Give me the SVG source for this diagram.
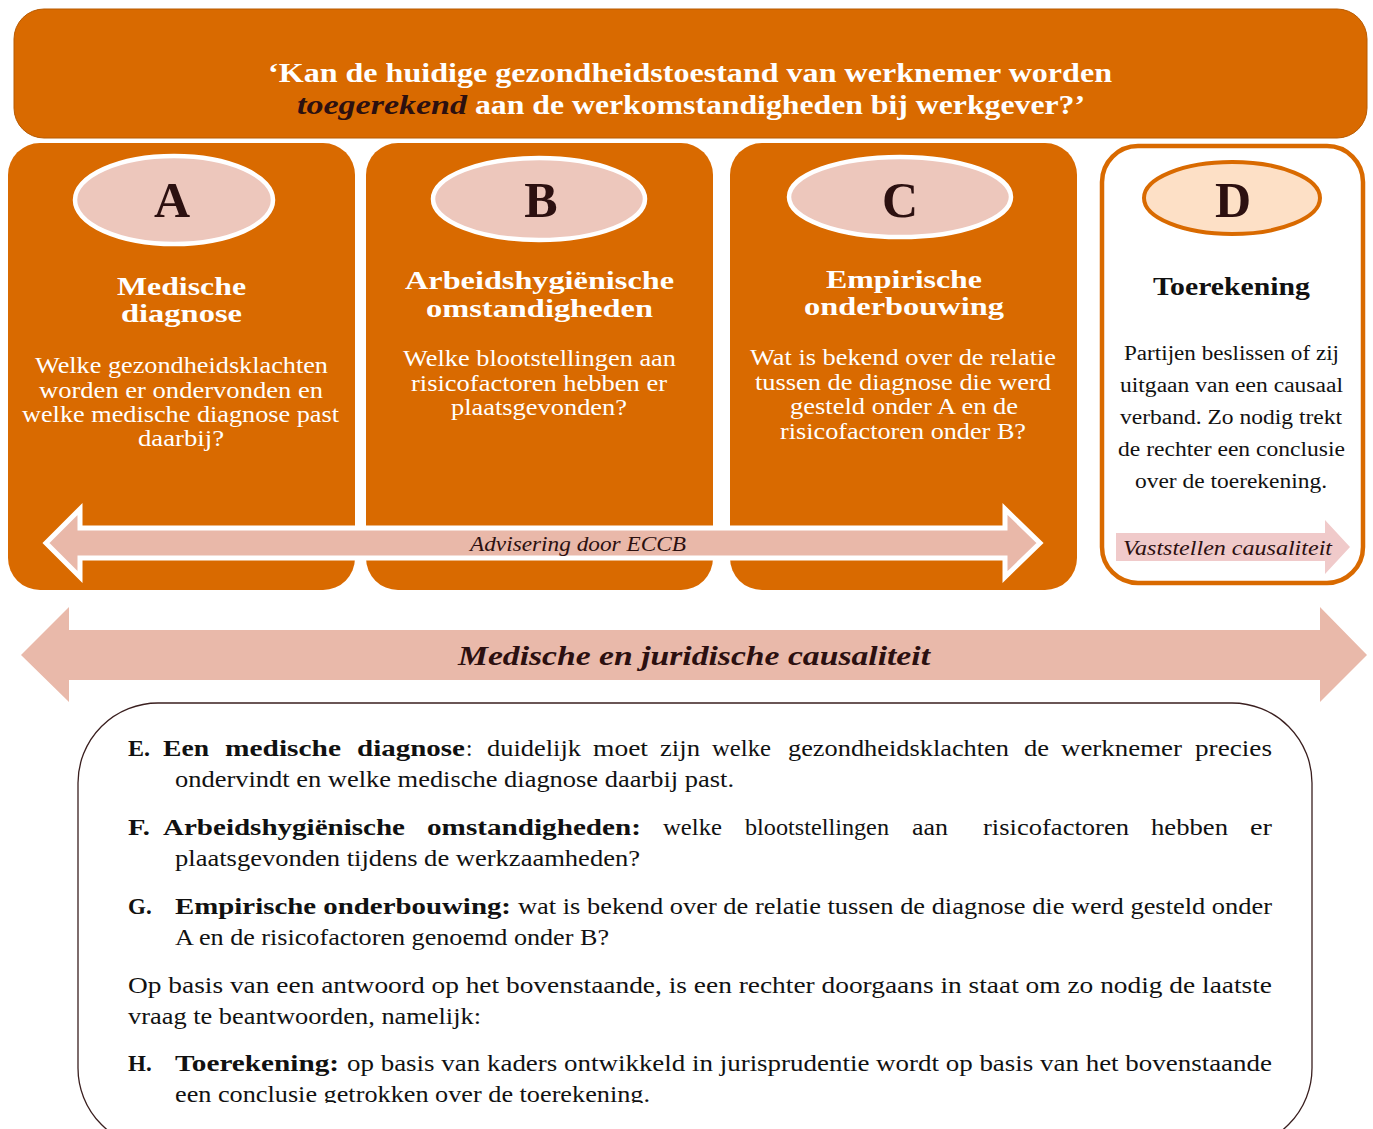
<svg xmlns="http://www.w3.org/2000/svg" width="1373" height="1129" viewBox="0 0 1373 1129">
<style>
text{font-family:"Liberation Serif","Times New Roman",serif}
.panel{fill:#D96A00}
.ell{fill:#EDC7BC;stroke:#FFFFFF;stroke-width:4.5}
.letter{font-size:50px;font-weight:bold;fill:#2C1010;text-anchor:middle}
.ttl{font-size:26px;font-weight:bold;fill:#FFFFFF}
.body{font-size:24px;fill:#FFFFFF}
.dbody{font-size:20px;fill:#111111}
.bt{font-size:23px;fill:#111111}
.b{font-weight:bold}
</style>
<defs>
<clipPath id="clipBottom"><rect x="0" y="700" width="1373" height="403"/></clipPath>
</defs>

<g id="banner">
<rect x="14" y="9" width="1353" height="129" rx="30" fill="#D96A00" stroke="#B85A00" stroke-width="1"/>
<text x="268" y="82" font-size="27" font-weight="bold" fill="#FFFFFF" textLength="844" lengthAdjust="spacingAndGlyphs">‘Kan de huidige gezondheidstoestand van werknemer worden</text>
<text x="297" y="114" font-size="27" font-weight="bold" font-style="italic" fill="#2C1010" textLength="170" lengthAdjust="spacingAndGlyphs">toegerekend</text>
<text x="475" y="114" font-size="27" font-weight="bold" fill="#FFFFFF" textLength="610" lengthAdjust="spacingAndGlyphs">aan de werkomstandigheden bij werkgever?’</text>
</g>

<g id="panelA">
<rect class="panel" x="8" y="143" width="347" height="447" rx="32"/>
<ellipse class="ell" cx="174" cy="200" rx="99" ry="44"/>
<text class="letter" x="172" y="217">A</text>
<text class="ttl" x="117" y="295" font-size="25" textLength="129" lengthAdjust="spacingAndGlyphs">Medische</text>
<text class="ttl" x="121" y="322" font-size="25" textLength="121" lengthAdjust="spacingAndGlyphs">diagnose</text>
<text class="body" x="35" y="373" textLength="293" lengthAdjust="spacingAndGlyphs">Welke gezondheidsklachten</text>
<text class="body" x="39" y="398" textLength="284" lengthAdjust="spacingAndGlyphs">worden er ondervonden en</text>
<text class="body" x="22" y="422" textLength="317" lengthAdjust="spacingAndGlyphs">welke medische diagnose past</text>
<text class="body" x="138" y="446" textLength="86" lengthAdjust="spacingAndGlyphs">daarbij?</text>
</g>

<g id="panelB">
<rect class="panel" x="366" y="143" width="347" height="447" rx="32"/>
<ellipse class="ell" cx="539" cy="199" rx="106" ry="41"/>
<text class="letter" x="541" y="217">B</text>
<text class="ttl" x="405" y="289" textLength="269" lengthAdjust="spacingAndGlyphs">Arbeidshygiënische</text>
<text class="ttl" x="426" y="317" textLength="227" lengthAdjust="spacingAndGlyphs">omstandigheden</text>
<text class="body" x="403" y="366" textLength="273" lengthAdjust="spacingAndGlyphs">Welke blootstellingen aan</text>
<text class="body" x="411" y="391" textLength="256" lengthAdjust="spacingAndGlyphs">risicofactoren hebben er</text>
<text class="body" x="451" y="415" textLength="176" lengthAdjust="spacingAndGlyphs">plaatsgevonden?</text>
</g>

<g id="panelC">
<rect class="panel" x="730" y="143" width="347" height="447" rx="32"/>
<ellipse class="ell" cx="900" cy="197" rx="111" ry="40"/>
<text class="letter" x="900" y="217">C</text>
<text class="ttl" x="826" y="288" textLength="156" lengthAdjust="spacingAndGlyphs">Empirische</text>
<text class="ttl" x="804" y="315" textLength="200" lengthAdjust="spacingAndGlyphs">onderbouwing</text>
<text class="body" x="750" y="365" textLength="306" lengthAdjust="spacingAndGlyphs">Wat is bekend over de relatie</text>
<text class="body" x="755" y="390" textLength="296" lengthAdjust="spacingAndGlyphs">tussen de diagnose die werd</text>
<text class="body" x="790" y="414" textLength="228" lengthAdjust="spacingAndGlyphs">gesteld onder A en de</text>
<text class="body" x="780" y="439" textLength="246" lengthAdjust="spacingAndGlyphs">risicofactoren onder B?</text>
</g>

<g id="panelD">
<rect x="1102" y="146" width="261" height="437" rx="36" fill="#FFFFFF" stroke="#D96A00" stroke-width="4.5"/>
<ellipse cx="1232" cy="198" rx="88" ry="36" fill="#FDE0C6" stroke="#D96A00" stroke-width="4"/>
<text class="letter" x="1233" y="217">D</text>
<text x="1153" y="295" font-size="25" font-weight="bold" fill="#111111" textLength="157" lengthAdjust="spacingAndGlyphs">Toerekening</text>
<text class="dbody" x="1124" y="360" textLength="215" lengthAdjust="spacingAndGlyphs">Partijen beslissen of zij</text>
<text class="dbody" x="1120" y="392" textLength="223" lengthAdjust="spacingAndGlyphs">uitgaan van een causaal</text>
<text class="dbody" x="1120" y="424" textLength="222" lengthAdjust="spacingAndGlyphs">verband. Zo nodig trekt</text>
<text class="dbody" x="1118" y="456" textLength="227" lengthAdjust="spacingAndGlyphs">de rechter een conclusie</text>
<text class="dbody" x="1135" y="488" textLength="192" lengthAdjust="spacingAndGlyphs">over de toerekening.</text>
</g>

<g id="connectors">
<polygon points="46,543 80,509 80,528 1005,528 1005,509 1040,543 1005,577 1005,558 80,558 80,577" fill="#E9B8A9" stroke="#FFFFFF" stroke-width="5"/>
<text x="470" y="551" font-size="21" font-style="italic" fill="#2C1010" textLength="216" lengthAdjust="spacingAndGlyphs">Advisering door ECCB</text>
<polygon points="1116,533 1325,533 1325,520 1350,547 1325,574 1325,561 1116,561" fill="#F0CACA"/>
<text x="1123" y="555" font-size="22" font-style="italic" fill="#2C1010" textLength="209" lengthAdjust="spacingAndGlyphs">Vaststellen causaliteit</text>
<polygon points="21,655 69,607 69,630 1320,630 1320,607 1367,655 1320,702 1320,680 69,680 69,702" fill="#E9B9AA"/>
<text x="458" y="665" font-size="27" font-weight="bold" font-style="italic" fill="#2C1010" textLength="472" lengthAdjust="spacingAndGlyphs">Medische en juridische causaliteit</text>
</g>

<g id="legend">
<rect x="78" y="703" width="1234" height="445" rx="80" ry="80" fill="#FFFFFF" stroke="#3A1F1F" stroke-width="1.3"/>
<g clip-path="url(#clipBottom)">
<g id="lineE1">
<text class="bt b" x="128" y="756" textLength="22" lengthAdjust="spacingAndGlyphs">E.</text>
<text class="bt b" x="163" y="756" textLength="46" lengthAdjust="spacingAndGlyphs">Een</text>
<text class="bt b" x="225" y="756" textLength="116" lengthAdjust="spacingAndGlyphs">medische</text>
<text class="bt b" x="357" y="756" textLength="108" lengthAdjust="spacingAndGlyphs">diagnose</text>
<text class="bt" x="466" y="756">:</text>
<text class="bt" x="487" y="756" textLength="94" lengthAdjust="spacingAndGlyphs">duidelijk</text>
<text class="bt" x="593" y="756" textLength="55" lengthAdjust="spacingAndGlyphs">moet</text>
<text class="bt" x="660" y="756" textLength="40" lengthAdjust="spacingAndGlyphs">zijn</text>
<text class="bt" x="712" y="756" textLength="59" lengthAdjust="spacingAndGlyphs">welke</text>
<text class="bt" x="788" y="756" textLength="221" lengthAdjust="spacingAndGlyphs">gezondheidsklachten</text>
<text class="bt" x="1024" y="756" textLength="25" lengthAdjust="spacingAndGlyphs">de</text>
<text class="bt" x="1061" y="756" textLength="121" lengthAdjust="spacingAndGlyphs">werknemer</text>
<text class="bt" x="1195" y="756" textLength="77" lengthAdjust="spacingAndGlyphs">precies</text>
</g>
<text class="bt" x="175" y="787" textLength="559" lengthAdjust="spacingAndGlyphs">ondervindt en welke medische diagnose daarbij past.</text>
<g id="lineF1">
<text class="bt b" x="128" y="835" textLength="22" lengthAdjust="spacingAndGlyphs">F.</text>
<text class="bt b" x="163" y="835" textLength="242" lengthAdjust="spacingAndGlyphs">Arbeidshygiënische</text>
<text class="bt b" x="427" y="835" textLength="214" lengthAdjust="spacingAndGlyphs">omstandigheden:</text>
<text class="bt" x="663" y="835" textLength="59" lengthAdjust="spacingAndGlyphs">welke</text>
<text class="bt" x="745" y="835" textLength="144" lengthAdjust="spacingAndGlyphs">blootstellingen</text>
<text class="bt" x="912" y="835" textLength="36" lengthAdjust="spacingAndGlyphs">aan</text>
<text class="bt" x="983" y="835" textLength="146" lengthAdjust="spacingAndGlyphs">risicofactoren</text>
<text class="bt" x="1151" y="835" textLength="77" lengthAdjust="spacingAndGlyphs">hebben</text>
<text class="bt" x="1250" y="835" textLength="22" lengthAdjust="spacingAndGlyphs">er</text>
</g>
<text class="bt" x="175" y="866" textLength="465" lengthAdjust="spacingAndGlyphs">plaatsgevonden tijdens de werkzaamheden?</text>
<text class="bt b" x="128" y="914">G.</text>
<text class="bt b" x="175" y="914" textLength="336" lengthAdjust="spacingAndGlyphs">Empirische onderbouwing:</text>
<text class="bt" x="518" y="914" textLength="754" lengthAdjust="spacingAndGlyphs">wat is bekend over de relatie tussen de diagnose die werd gesteld onder</text>
<text class="bt" x="175" y="945" textLength="434" lengthAdjust="spacingAndGlyphs">A en de risicofactoren genoemd onder B?</text>
<text class="bt" x="128" y="993" textLength="1144" lengthAdjust="spacingAndGlyphs">Op basis van een antwoord op het bovenstaande, is een rechter doorgaans in staat om zo nodig de laatste</text>
<text class="bt" x="128" y="1024" textLength="353" lengthAdjust="spacingAndGlyphs">vraag te beantwoorden, namelijk:</text>
<text class="bt b" x="128" y="1071">H.</text>
<text class="bt b" x="175" y="1071" textLength="164" lengthAdjust="spacingAndGlyphs">Toerekening:</text>
<text class="bt" x="347" y="1071" textLength="925" lengthAdjust="spacingAndGlyphs">op basis van kaders ontwikkeld in jurisprudentie wordt op basis van het bovenstaande</text>
<text class="bt" x="175" y="1102" textLength="475" lengthAdjust="spacingAndGlyphs">een conclusie getrokken over de toerekening.</text>
</g>
</g>
</svg>
